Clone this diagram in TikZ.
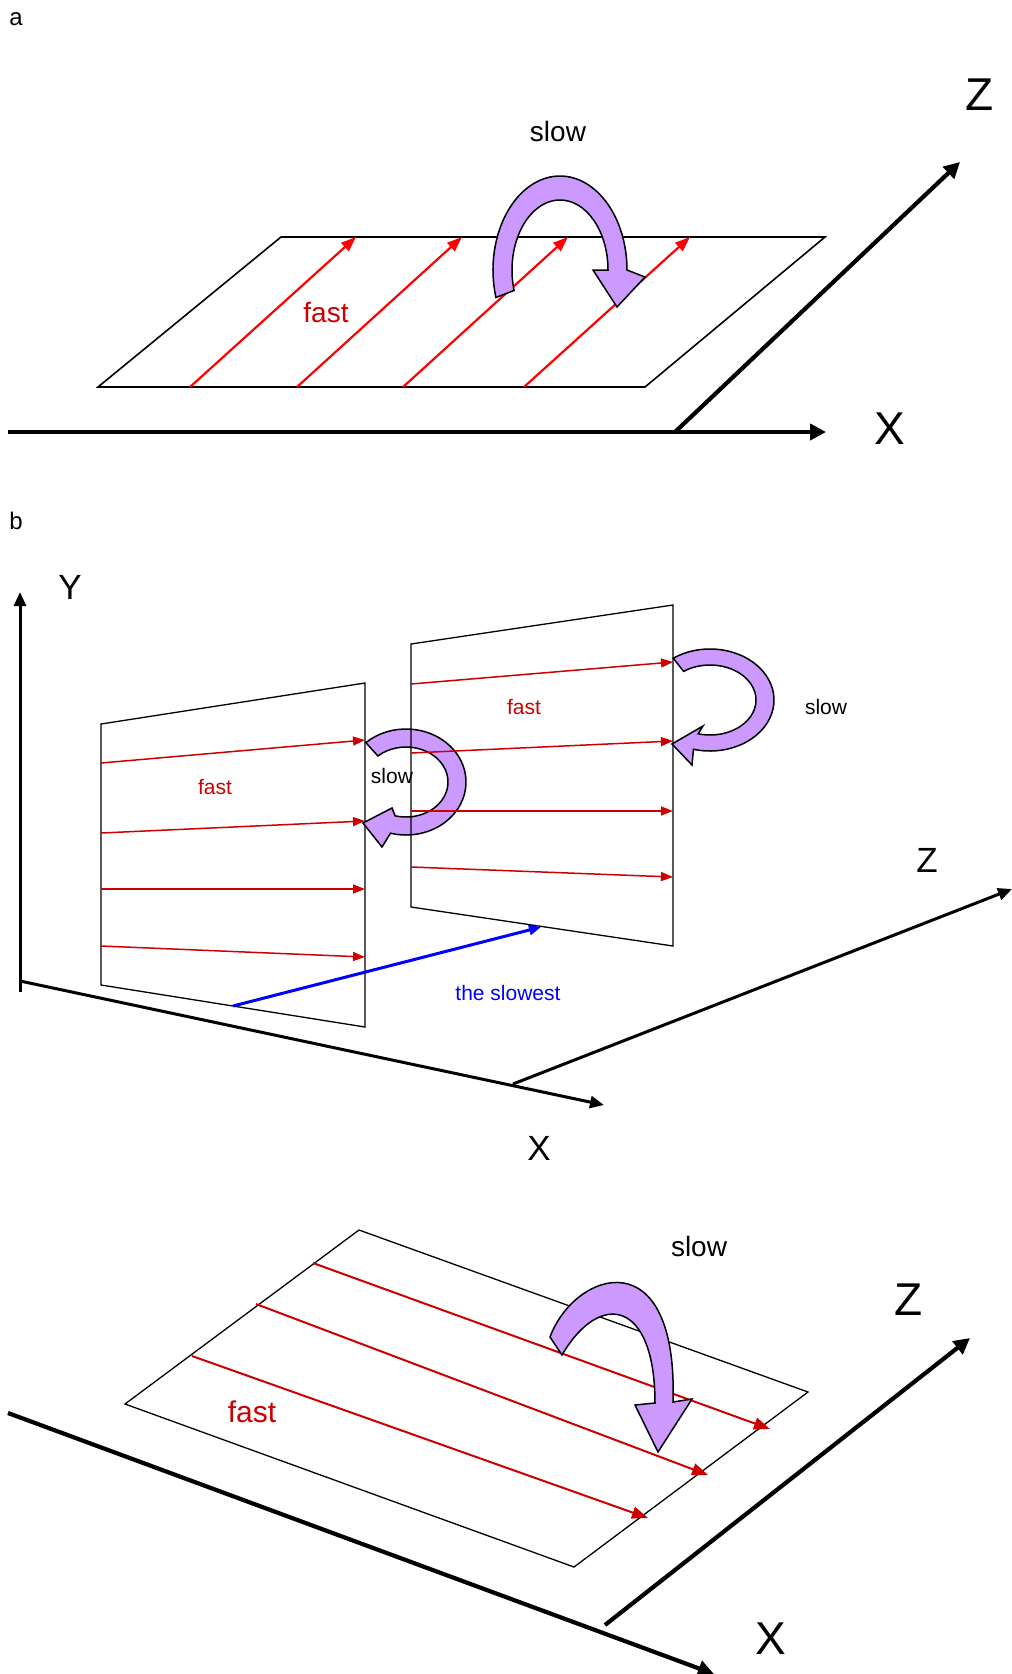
\documentclass[tikz,border=0pt]{standalone}
\usepackage{fontspec}
\setmainfont{Liberation Sans}
\usetikzlibrary{arrows.meta,calc}
\definecolor{fastred}{RGB}{204,0,0}
\definecolor{purp}{RGB}{204,153,255}
\definecolor{slowblue}{RGB}{0,0,255}
\begin{document}
\begin{tikzpicture}[x=1pt,y=-1pt,
  plane/.style={draw=black,line width=1.6pt,line join=miter},
  planethin/.style={draw=black,line width=1.3pt,line join=miter},
  redA/.style={draw=red,line width=2.2pt,-{Triangle[length=15pt,width=11pt]}},
  redB/.style={draw=fastred,line width=1.5pt,-{Triangle[length=12pt,width=9pt]}},
  redC/.style={draw=fastred,line width=2pt,-{Triangle[length=16pt,width=12pt]}},
  axisthick/.style={draw=black,line width=4.2pt,-{Triangle[length=16pt,width=16pt]}},
  axismid/.style={draw=black,line width=3pt,-{Triangle[length=14pt,width=12pt]}},
  fatarr/.style={fill=purp,draw=black,line width=1.5pt,line join=miter},
  lbl/.style={inner sep=0pt,anchor=center},
  big/.style={lbl,font=\fontsize{46}{50}\selectfont},
  medium/.style={lbl,font=\fontsize{35}{40}\selectfont},
  word/.style={lbl,font=\fontsize{28}{32}\selectfont},
  small/.style={lbl,font=\fontsize{21}{25}\selectfont},
  tag/.style={lbl,font=\fontsize{24}{28}\selectfont}]
\useasboundingbox (0,0) rectangle (1012,1674);

% ================= panel a =================
\node[tag] (la) at (16,19) {a};
\coordinate (a1) at (98,387);
\coordinate (a2) at (645,387);
\coordinate (a3) at (825,237);
\coordinate (a4) at (281,237);
\draw[plane] (a1) -- (a2) -- (a3) -- (a4) -- cycle;
\coordinate (ar1s) at (190,387); \coordinate (ar1e) at (356,237);
\coordinate (ar2s) at (297,387); \coordinate (ar2e) at (462,237);
\coordinate (ar3s) at (403,387); \coordinate (ar3e) at (568,237);
\coordinate (ar4s) at (524,387); \coordinate (ar4e) at (690,237);
\draw[redA] (ar1s) -- (ar1e);
\draw[redA] (ar2s) -- (ar2e);
\draw[redA] (ar3s) -- (ar3e);
\draw[redA] (ar4s) -- (ar4e);
\coordinate (axo) at (8,432);
\coordinate (axe) at (826,432);
\coordinate (azo) at (675,432);
\coordinate (aze) at (960,162);
\draw[axisthick] (axo) -- (axe);
\draw[axisthick] (azo) -- (aze);
\coordinate (fa) at (560,270);
\draw[fatarr] ($(fa)+(163:67 and 94)$) arc[start angle=163,end angle=360,x radius=67,y radius=94]
  -- (645,277) -- (617,307) -- (593,270)
  -- ($(fa)+(0:48 and 70)$) arc[start angle=360,end angle=163,x radius=48,y radius=70] -- cycle;
\node[word] (aslow) at (558,131) {slow};
\node[word,text=fastred] (afast) at (326,312) {fast};
\node[big] (aX) at (890,429) {X};
\node[big] (aZ) at (980,95) {Z};

% ================= panel b =================
\node[tag] (lb) at (16,521) {b};
\coordinate (byo) at (20,992);
\coordinate (bye) at (20,592);
\coordinate (bxo) at (20,981);
\coordinate (bxe) at (604,1105);
\coordinate (bzo) at (513,1084);
\coordinate (bze) at (1012,889);
\draw[axismid] (byo) -- (bye);
\draw[axismid] (bxo) -- (bxe);
\draw[axismid] (bzo) -- (bze);
% left plane
\coordinate (p1) at (101,724);
\coordinate (p2) at (365,683);
\coordinate (p3) at (365,1027);
\coordinate (p4) at (101,985);
\draw[planethin] (p1) -- (p2) -- (p3) -- (p4) -- cycle;
\draw[redB] (101,763) -- (365,740);
\draw[redB] (101,833) -- (365,821);
\draw[redB] (101,889) -- (365,889);
\draw[redB] (101,946) -- (365,957);
% left fat arrow
\coordinate (fbl) at (406,782);
\draw[fatarr] ($(fbl)+(228:60 and 53)$) arc[start angle=228,end angle=465,x radius=60,y radius=53]
  -- (382,847) -- (363,823) -- (392,808)
  -- ($(fbl)+(465:42 and 35)$) arc[start angle=465,end angle=228,x radius=42,y radius=35] -- cycle;
% right plane
\coordinate (q1) at (411,644);
\coordinate (q2) at (673,605);
\coordinate (q3) at (673,946);
\coordinate (q4) at (411,907);
\draw[planethin] (q1) -- (q2) -- (q3) -- (q4) -- cycle;
\draw[redB] (411,684) -- (673,662);
\draw[redB] (411,753) -- (673,741);
\draw[redB] (411,811) -- (673,811);
\draw[redB] (411,867) -- (673,877);
% right fat arrow
\coordinate (fbr) at (710,700);
\draw[fatarr] ($(fbr)+(235:64 and 51)$) arc[start angle=235,end angle=465,x radius=64,y radius=51]
  -- (692,765) -- (672,744) -- (703,726)
  -- ($(fbr)+(465:46 and 35)$) arc[start angle=465,end angle=235,x radius=46,y radius=35] -- cycle;
% slowest
\coordinate (bls) at (233,1006);
\coordinate (ble) at (541,927);
\draw[draw=slowblue,line width=3pt,-{Triangle[length=12pt,width=10pt]}] (bls) -- (ble);
\node[small,text=slowblue] (bslowest) at (508,993) {the slowest};
\node[small,text=fastred] (bfast1) at (215,787) {fast};
\node[small,text=fastred] (bfast2) at (524,707) {fast};
\node[small] (bslow1) at (392,776) {slow};
\node[small] (bslow2) at (826,707) {slow};
\node[medium] (bY) at (70,587) {Y};
\node[medium] (bZ) at (927,860) {Z};
\node[medium] (bX) at (539,1148) {X};

% ================= panel c =================
\coordinate (c1) at (125,1404);
\coordinate (c2) at (359,1230);
\coordinate (c3) at (808,1392);
\coordinate (c4) at (574,1567);
\draw[planethin] (c1) -- (c2) -- (c3) -- (c4) -- cycle;
\draw[redC] (192,1356) -- (648,1518);
\draw[redC] (256,1304) -- (708,1475);
\draw[redC] (313,1263) -- (770,1429);
\coordinate (cxo) at (8,1413);
\coordinate (cxe) at (714,1674);
\coordinate (czo) at (605,1625);
\coordinate (cze) at (970,1338);
\draw[axisthick] (cxo) -- (cxe);
\draw[axisthick] (czo) -- (cze);
\draw[fatarr] (550,1337) .. controls (575,1270) and (678,1238) .. (673,1402)
  -- (692,1399) -- (658,1452) -- (635,1405) -- (655,1403)
  .. controls (655,1300) and (600,1290) .. (562,1355) -- cycle;
\node[word] (cslow) at (699,1246) {slow};
\node[word,text=fastred,font=\fontsize{30}{34}\selectfont] (cfast) at (252,1412) {fast};
\node[big] (cZ) at (909,1300) {Z};
\node[big] (cX) at (771,1639) {X};
\end{tikzpicture}
\end{document}
